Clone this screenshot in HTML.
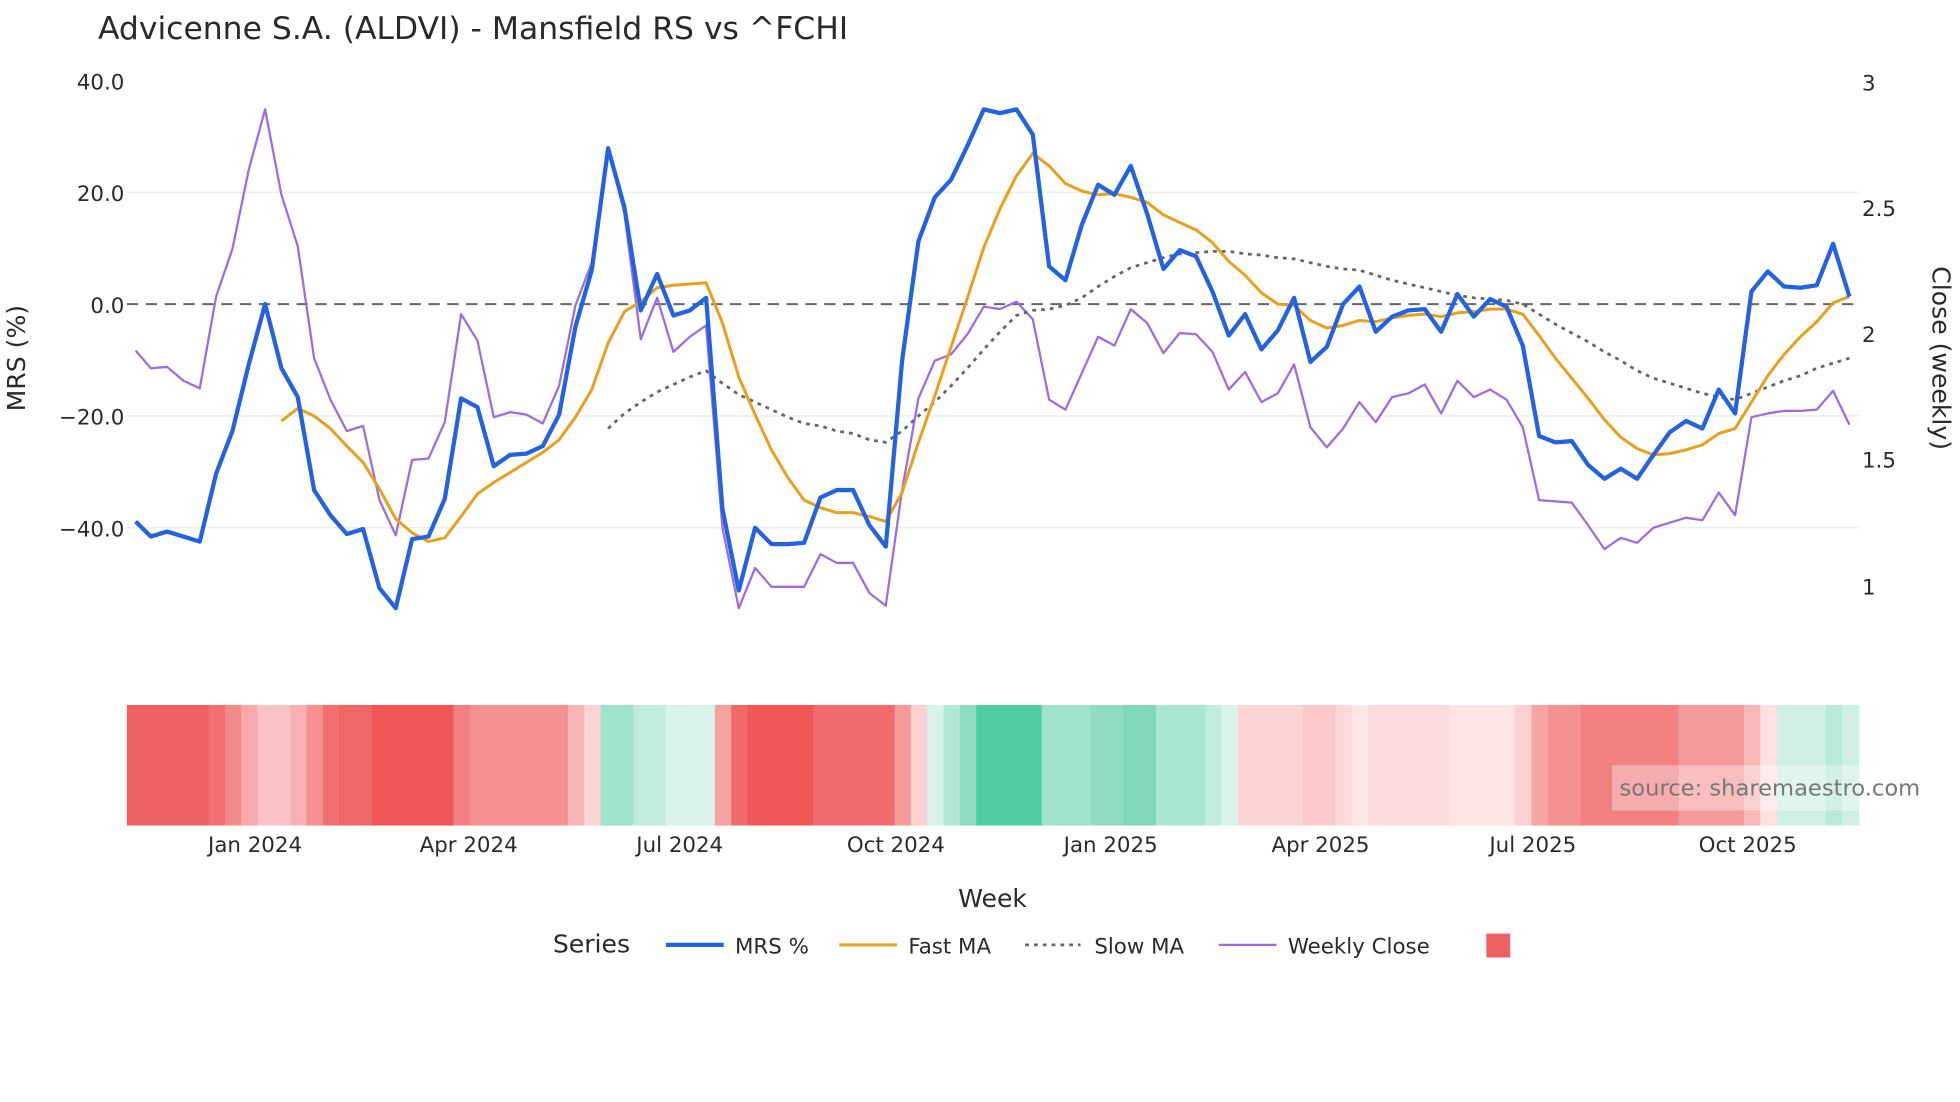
<!DOCTYPE html>
<html><head><meta charset="utf-8"><style>
html,body{margin:0;padding:0;background:#fff;}
svg{display:block;}
text{font-family:"DejaVu Sans","Liberation Sans",sans-serif;fill:#2a2a2a;}
</style></head><body>
<svg width="1960" height="1102" viewBox="0 0 1560 877" xmlns="http://www.w3.org/2000/svg">
<rect width="1560" height="877" fill="#fff"/>
<text x="78" y="31" font-size="25">Advicenne S.A. (ALDVI) - Mansfield RS vs ^FCHI</text>
<!-- grid -->
<g stroke="#ececf0" stroke-width="1">
<line x1="101" x2="1480" y1="153" y2="153"/>
<line x1="101" x2="1480" y1="331" y2="331"/>
<line x1="101" x2="1480" y1="420" y2="420"/>
</g>
<line x1="101" x2="1480" y1="242" y2="242" stroke="#666" stroke-width="1.6" stroke-dasharray="9,6"/>
<!-- left ticks -->
<g font-size="17" text-anchor="end">
<text x="99" y="71">40.0</text>
<text x="99" y="160">20.0</text>
<text x="99" y="249">0.0</text>
<text x="99" y="338">−20.0</text>
<text x="99" y="427">−40.0</text>
</g>
<g font-size="17">
<text x="1482" y="72">3</text>
<text x="1482" y="172">2.5</text>
<text x="1482" y="272">2</text>
<text x="1482" y="372">1.5</text>
<text x="1482" y="473">1</text>
</g>
<text transform="translate(20,285) rotate(-90)" font-size="20" text-anchor="middle">MRS (%)</text>
<text transform="translate(1538,285) rotate(90)" font-size="20" text-anchor="middle">Close (weekly)</text>
<!-- series -->
<polyline fill="none" stroke="#9b6de0" stroke-width="1.8" stroke-linejoin="round" points="108,279 120,293 133,292 146,303 159,309 172,236 185,198 198,135 211,87 224,155 237,196 250,285 263,318 276,343 289,339 302,398 315,426 328,366 341,365 354,336 367,250 380,271 393,332 406,328 419,330 432,337 445,307 458,243 471,209 484,117 497,170 510,270 523,237 536,280 549,268 562,259 575,420 588,484 601,452 614,467 627,467 640,467 653,441 666,448 679,448 692,472 705,482 718,390 731,317 744,287 757,282 770,266 783,244 796,246 809,240 822,254 835,318 848,326 861,297 874,268 887,275 900,246 913,257 926,281 939,265 952,266 965,280 978,310 991,296 1004,320 1017,313 1030,290 1043,340 1056,356 1069,341 1082,320 1095,336 1108,316 1121,313 1134,306 1147,329 1160,303 1173,316 1186,310 1199,318 1212,340 1225,398 1238,399 1251,400 1264,418 1277,437 1290,428 1303,432 1316,420 1329,416 1342,412 1355,414 1368,392 1381,410 1394,332 1407,329 1420,327 1433,327 1446,326 1459,311 1472,338"/>
<polyline fill="none" stroke="#666" stroke-width="2.2" stroke-dasharray="3,4" points="484,341 497,329 510,320 523,312 536,306 549,300 562,295 575,305 588,314 601,320 614,326 627,332 640,337 653,339 666,343 679,345 692,350 705,352 718,343 731,331 744,320 757,307 770,293 783,278 796,264 809,251 822,247 835,246 848,243 861,237 874,228 887,220 900,213 913,209 926,205 939,202 952,201 965,200 978,200 991,202 1004,203 1017,205 1030,206 1043,209 1056,212 1069,214 1082,215 1095,219 1108,223 1121,226 1134,229 1147,232 1160,235 1173,237 1186,238 1199,239 1212,242 1225,250 1238,258 1251,265 1264,272 1277,280 1290,287 1303,295 1316,301 1329,305 1342,309 1355,313 1368,316 1381,318 1394,313 1407,308 1420,303 1433,299 1446,293 1459,289 1472,285"/>
<polyline fill="none" stroke="#e8a020" stroke-width="2.4" stroke-linejoin="round" points="224,335 237,325 250,331 263,341 276,355 289,368 302,389 315,413 328,424 341,431 354,428 367,411 380,393 393,384 406,376 419,368 432,360 445,350 458,332 471,310 484,273 497,248 510,240 523,229 536,227 549,226 562,225 575,257 588,300 601,330 614,358 627,380 640,398 653,404 666,408 679,408 692,411 705,415 718,392 731,352 744,315 757,276 770,237 783,197 796,166 809,140 822,122 835,132 848,146 861,152 874,155 887,154 900,157 913,161 926,171 939,177 952,183 965,193 978,208 991,219 1004,233 1017,242 1030,243 1043,255 1056,261 1069,259 1082,255 1095,256 1108,253 1121,251 1134,250 1147,252 1160,249 1173,248 1186,246 1199,246 1212,250 1225,267 1238,285 1251,301 1264,317 1277,334 1290,348 1303,357 1316,362 1329,361 1342,358 1355,354 1368,345 1381,341 1394,320 1407,299 1420,282 1433,268 1446,256 1459,241 1472,236"/>
<polyline fill="none" stroke="#2563de" stroke-width="3.4" stroke-linejoin="round" points="108,415 120,427 133,423 146,427 159,431 172,377 185,343 198,290 211,242 224,293 237,316 250,390 263,410 276,425 289,421 302,468 315,484 328,429 341,427 354,397 367,317 380,324 393,371 406,362 419,361 432,355 445,330 458,260 471,215 484,118 497,165 510,247 523,218 536,251 549,247 562,237 575,405 588,470 601,420 614,433 627,433 640,432 653,396 666,390 679,390 692,418 705,435 718,287 731,192 744,157 757,143 770,116 783,87 796,90 809,87 822,107 835,212 848,223 861,179 874,147 887,155 900,132 913,170 926,214 939,199 952,204 965,232 978,267 991,250 1004,278 1017,263 1030,237 1043,288 1056,276 1069,242 1082,228 1095,264 1108,252 1121,247 1134,246 1147,264 1160,234 1173,252 1186,238 1199,244 1212,275 1225,347 1238,352 1251,351 1264,370 1277,381 1290,373 1303,381 1316,362 1329,344 1342,335 1355,341 1368,310 1381,329 1394,232 1407,216 1420,228 1433,229 1446,227 1459,194 1472,236"/>
<!-- heat bar -->
<g>
<rect x="101" y="561" width="66" height="96" fill="#ef6060"/>
<rect x="166" y="561" width="14" height="96" fill="#f07070"/>
<rect x="179" y="561" width="14" height="96" fill="#f38a8a"/>
<rect x="192" y="561" width="14" height="96" fill="#f6aaaa"/>
<rect x="205" y="561" width="27" height="96" fill="#fbc3c3"/>
<rect x="231" y="561" width="14" height="96" fill="#f8b0b0"/>
<rect x="244" y="561" width="14" height="96" fill="#f49090"/>
<rect x="257" y="561" width="14" height="96" fill="#f07070"/>
<rect x="270" y="561" width="27" height="96" fill="#ee6666"/>
<rect x="296" y="561" width="66" height="96" fill="#ef5757"/>
<rect x="361" y="561" width="14" height="96" fill="#f28080"/>
<rect x="374" y="561" width="79" height="96" fill="#f49090"/>
<rect x="452" y="561" width="14" height="96" fill="#f8b5b5"/>
<rect x="465" y="561" width="14" height="96" fill="#fcd4d4"/>
<rect x="478" y="561" width="27" height="96" fill="#a0e3cd"/>
<rect x="504" y="561" width="27" height="96" fill="#c0ecde"/>
<rect x="530" y="561" width="40" height="96" fill="#d8f3ea"/>
<rect x="569" y="561" width="14" height="96" fill="#f7a0a0"/>
<rect x="582" y="561" width="14" height="96" fill="#f06a6a"/>
<rect x="595" y="561" width="53" height="96" fill="#ef5757"/>
<rect x="647" y="561" width="66" height="96" fill="#f06c6c"/>
<rect x="712" y="561" width="14" height="96" fill="#f59a9a"/>
<rect x="725" y="561" width="14" height="96" fill="#fbd0d0"/>
<rect x="738" y="561" width="14" height="96" fill="#d8f3ea"/>
<rect x="751" y="561" width="14" height="96" fill="#b0e8d5"/>
<rect x="764" y="561" width="14" height="96" fill="#8fdcc2"/>
<rect x="777" y="561" width="53" height="96" fill="#4fcca0"/>
<rect x="829" y="561" width="40" height="96" fill="#a0e3cd"/>
<rect x="868" y="561" width="27" height="96" fill="#8fdcc2"/>
<rect x="894" y="561" width="27" height="96" fill="#80d7ba"/>
<rect x="920" y="561" width="40" height="96" fill="#a8e6d1"/>
<rect x="959" y="561" width="14" height="96" fill="#c0ecde"/>
<rect x="972" y="561" width="14" height="96" fill="#d8f3ea"/>
<rect x="985" y="561" width="53" height="96" fill="#fcd4d4"/>
<rect x="1037" y="561" width="27" height="96" fill="#fbc9c9"/>
<rect x="1063" y="561" width="14" height="96" fill="#fcd8d8"/>
<rect x="1076" y="561" width="14" height="96" fill="#fde6e6"/>
<rect x="1089" y="561" width="66" height="96" fill="#fcdcdc"/>
<rect x="1154" y="561" width="53" height="96" fill="#fde3e3"/>
<rect x="1206" y="561" width="14" height="96" fill="#fcd0d0"/>
<rect x="1219" y="561" width="14" height="96" fill="#f6a5a5"/>
<rect x="1232" y="561" width="27" height="96" fill="#f39090"/>
<rect x="1258" y="561" width="79" height="96" fill="#f28080"/>
<rect x="1336" y="561" width="53" height="96" fill="#f49a9a"/>
<rect x="1388" y="561" width="14" height="96" fill="#f8b8b8"/>
<rect x="1401" y="561" width="14" height="96" fill="#fde0e0"/>
<rect x="1414" y="561" width="40" height="96" fill="#d0f0e5"/>
<rect x="1453" y="561" width="14" height="96" fill="#b8eada"/>
<rect x="1466" y="561" width="14" height="96" fill="#d0f0e5"/>
</g>
<rect x="1283" y="609" width="197" height="36" fill="#fff" fill-opacity="0.35"/>
<text x="1289" y="633" font-size="18" fill="#777" style="fill:#777">source: sharemaestro.com</text>
<!-- x ticks -->
<g font-size="17" text-anchor="middle">
<text x="203" y="678">Jan 2024</text>
<text x="373" y="678">Apr 2024</text>
<text x="541" y="678">Jul 2024</text>
<text x="713" y="678">Oct 2024</text>
<text x="884" y="678">Jan 2025</text>
<text x="1051" y="678">Apr 2025</text>
<text x="1220" y="678">Jul 2025</text>
<text x="1391" y="678">Oct 2025</text>
</g>
<text x="790" y="722" font-size="20" text-anchor="middle">Week</text>
<!-- legend -->
<text x="440" y="758" font-size="20">Series</text>
<line x1="530" x2="576" y1="752" y2="752" stroke="#2563de" stroke-width="3.4"/>
<text x="585" y="759" font-size="17">MRS %</text>
<line x1="668" x2="714" y1="752" y2="752" stroke="#e8a020" stroke-width="2.4"/>
<text x="723" y="759" font-size="17">Fast MA</text>
<line x1="816" x2="860" y1="752" y2="752" stroke="#666" stroke-width="2.2" stroke-dasharray="3,4"/>
<text x="871" y="759" font-size="17">Slow MA</text>
<line x1="970" x2="1016" y1="752" y2="752" stroke="#9b6de0" stroke-width="1.8"/>
<text x="1025" y="759" font-size="17">Weekly Close</text>
<rect x="1183" y="743" width="19" height="19" fill="#ef6060"/>
</svg>
</body></html>
